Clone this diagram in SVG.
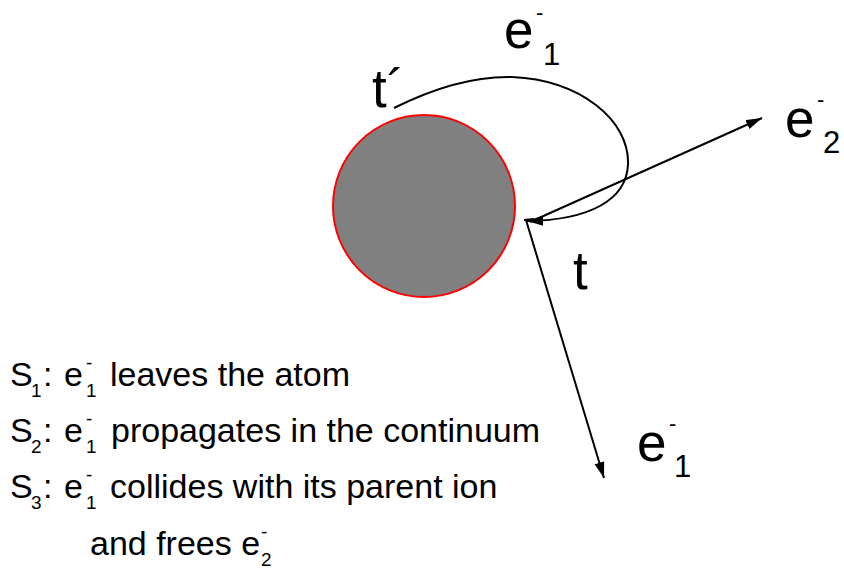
<svg xmlns="http://www.w3.org/2000/svg" width="844" height="569" viewBox="0 0 844 569">
<defs>
<marker id="arr" markerUnits="userSpaceOnUse" markerWidth="18" markerHeight="12" refX="16" refY="5" orient="auto">
<path d="M0,0 L16,5 L0,10 Z" fill="#000"/>
</marker>
<style>
.big{font-family:"Liberation Sans",Arial,sans-serif;font-size:53px;fill:#000}
.sm{font-family:"Liberation Sans",Arial,sans-serif;font-size:31px;fill:#000}
.dash{font-family:"Liberation Sans",Arial,sans-serif;font-size:22px;fill:#000}
.txt{font-family:"Liberation Sans",Arial,sans-serif;font-size:34px;fill:#000}
.sub{font-family:"Liberation Sans",Arial,sans-serif;font-size:19px;fill:#000}
.ln{fill:none;stroke:#000;stroke-width:2}
</style>
</defs>
<rect width="844" height="569" fill="#fff"/>
<g id="atom">
<circle cx="424" cy="206" r="91" fill="#808080" stroke="#ff0000" stroke-width="2"/>
</g>
<g id="connectors">
<path class="ln" d="M394 108 C430 90 470 76 512 77 C580 80 630 120 628 165 C626 200 590 220 527 221" marker-end="url(#arr)"/>
<line class="ln" x1="530" y1="222" x2="762" y2="118" marker-end="url(#arr)"/>
<line class="ln" x1="526" y1="220" x2="604" y2="478" marker-end="url(#arr)"/>
<line class="ln" x1="524" y1="220" x2="534" y2="219"/>
</g>
<g id="label-e1-top">
<text class="big" x="504" y="48">e</text>
<text class="dash" x="536" y="20">-</text>
<text class="sm" x="543" y="65">1</text>
</g>
<g id="label-tprime">
<text class="big" x="372" y="107">t´</text>
</g>
<g id="label-e2">
<text class="big" x="785" y="137">e</text>
<text class="dash" x="817" y="107">-</text>
<text class="sm" x="823" y="153">2</text>
</g>
<g id="label-t">
<text class="big" x="573" y="289">t</text>
</g>
<g id="label-e1-bottom">
<text class="big" x="637" y="461">e</text>
<text class="dash" x="669" y="431">-</text>
<text class="sm" x="674" y="477">1</text>
</g>
<g id="legend">
<text class="txt" x="10" y="386">S</text>
<text class="sub" x="31" y="397">1</text>
<text class="txt" x="43" y="386">:</text>
<text class="txt" x="64" y="386">e</text>
<text class="sub" x="86" y="369">-</text>
<text class="sub" x="86" y="397">1</text>
<text class="txt" x="110" y="386">leaves the atom</text>

<text class="txt" x="10" y="442">S</text>
<text class="sub" x="31" y="453">2</text>
<text class="txt" x="43" y="442">:</text>
<text class="txt" x="64" y="442">e</text>
<text class="sub" x="86" y="425">-</text>
<text class="sub" x="86" y="453">1</text>
<text class="txt" x="111" y="442">propagates in the continuum</text>

<text class="txt" x="10" y="498">S</text>
<text class="sub" x="31" y="509">3</text>
<text class="txt" x="43" y="498">:</text>
<text class="txt" x="64" y="498">e</text>
<text class="sub" x="86" y="481">-</text>
<text class="sub" x="86" y="509">1</text>
<text class="txt" x="110" y="498">collides with its parent ion</text>

<text class="txt" x="90" y="555">and frees e</text>
<text class="sub" x="261" y="538">-</text>
<text class="sub" x="261" y="566">2</text>
</g>
</svg>
